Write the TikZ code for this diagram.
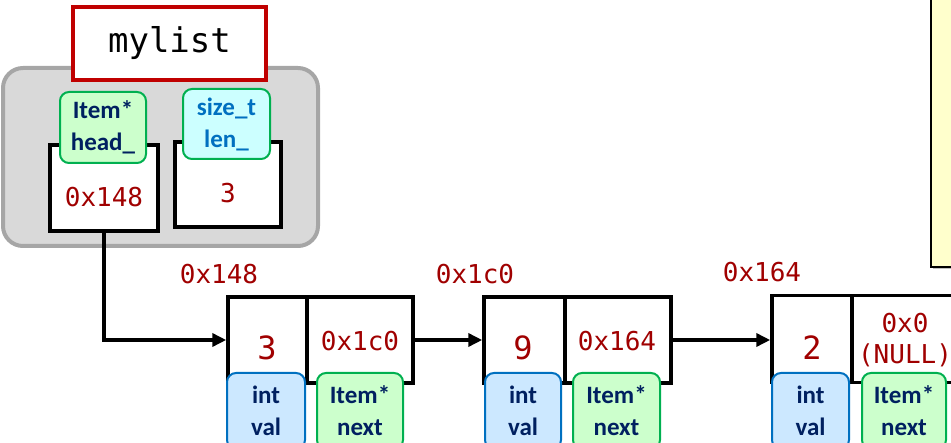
\documentclass[tikz,border=0pt]{standalone}
\usepackage{fontspec}
\usetikzlibrary{arrows.meta,shadows}
\newfontfamily\monof{DejaVu Sans Mono}
\newfontfamily\labf{Carlito}
\definecolor{addrred}{HTML}{A00000}
\definecolor{boxred}{HTML}{C00000}
\definecolor{navy}{HTML}{002060}
\definecolor{lblue}{HTML}{0070C0}
\definecolor{ggreen}{HTML}{00B050}
\definecolor{pgreen}{HTML}{CCFFCC}
\definecolor{pcyan}{HTML}{CCFFFF}
\definecolor{pblue}{HTML}{CCE8FF}
\definecolor{cgray}{HTML}{D9D9D9}
\definecolor{cborder}{HTML}{A6A6A6}
\definecolor{pyellow}{HTML}{FFFFCC}
\tikzset{
  cell/.style={draw=black, line width=3.5pt, fill=white, inner sep=0pt},
  addr/.style={text=addrred, font=\monof\fontsize{26}{30}\selectfont, inner sep=0pt},
  bigval/.style={text=addrred, font=\monof\fontsize{32}{36}\selectfont, inner sep=0pt},
  tag/.style={rounded corners=9pt, line width=2pt, inner sep=0pt, align=center,
     font=\labf\bfseries\fontsize{25}{32}\selectfont},
  gtag/.style={tag, draw=ggreen, fill=pgreen, text=navy},
  ctag/.style={tag, draw=ggreen, fill=pcyan, text=lblue},
  btag/.style={tag, draw=lblue, fill=pblue, text=navy},
  arr/.style={line width=3.5pt, -{Triangle[length=14pt,width=13pt]}},
}
\begin{document}
\begin{tikzpicture}[x=1pt,y=-1pt]
\useasboundingbox (0,0) rectangle (951,443);
% yellow note box
\node[draw=black, line width=2pt, fill=pyellow, minimum width=40pt, minimum height=290pt,
  drop shadow={shadow xshift=2pt, shadow yshift=-2pt, opacity=0.5}, inner sep=0pt]
  (note) at (951,122) {};
% container
\node[draw=cborder, fill=cgray, line width=4pt, rounded corners=20pt,
  minimum width=315pt, minimum height=178pt, inner sep=0pt] (cont) at (160.5,157) {};
\node[draw=boxred, fill=white, line width=4pt, minimum width=193pt, minimum height=73pt,
  inner sep=0pt, font=\monof\fontsize{34}{40}\selectfont] (mylist) at (169.5,43.5) {mylist};
% head_ and len_
\node[cell, minimum width=108pt, minimum height=86pt] (headbox) at (104,188) {};
\node[addr] (headval) at (104,197) {0x148};
\node[cell, minimum width=106pt, minimum height=85pt] (lenbox) at (228,184.5) {};
\node[addr] (lenval) at (228,193) {3};
\node[gtag, minimum width=86pt, minimum height=71pt] (headtag) at (103,127.5) {Item*\\head\_};
\node[ctag, minimum width=87pt, minimum height=70pt] (lentag) at (226.5,124) {size\_t\\len\_};
% item 1
\node[cell, minimum width=79pt, minimum height=86pt] (v1) at (267.5,340) {};
\node[cell, minimum width=106pt, minimum height=86pt] (n1) at (360,340) {};
\node[bigval] (v1t) at (267,348) {3};
\node[addr] (n1t) at (360,341) {0x1c0};
\node[addr] (a1) at (219,274) {0x148};
\node[btag, minimum width=78pt, minimum height=76pt] (v1tag) at (266,411) {int\\val};
\node[gtag, minimum width=86pt, minimum height=76pt] (n1tag) at (360,411) {Item*\\next};
% item 2
\node[cell, minimum width=81pt, minimum height=86pt] (v2) at (524.5,340) {};
\node[cell, minimum width=106pt, minimum height=86pt] (n2) at (618,340) {};
\node[bigval] (v2t) at (523,348) {9};
\node[addr] (n2t) at (617,341) {0x164};
\node[addr] (a2) at (475,274) {0x1c0};
\node[btag, minimum width=76pt, minimum height=76pt] (v2tag) at (523,411) {int\\val};
\node[gtag, minimum width=87pt, minimum height=76pt] (n2tag) at (616.5,411) {Item*\\next};
% item 3
\node[cell, minimum width=80pt, minimum height=87pt] (v3) at (812,339) {};
\node[cell, minimum width=106pt, minimum height=87pt] (n3) at (905,339) {};
\node[bigval] (v3t) at (812,348) {2};
\node[addr] (n3t) at (905,323) {0x0};
\node[addr] (n3u) at (905,355) {(NULL)};
\node[addr] (a3) at (762,272) {0x164};
\node[btag, minimum width=77pt, minimum height=76pt] (v3tag) at (810.5,411) {int\\val};
\node[gtag, minimum width=84pt, minimum height=76pt] (n3tag) at (904,411) {Item*\\next};
% arrows
\draw[arr] (headbox.south) |- (v1.west);
\draw[arr] (n1.east) -- (n1.east -| v2.west);
\draw[arr] (n2.east) -- (n2.east -| v3.west);
\end{tikzpicture}
\end{document}
